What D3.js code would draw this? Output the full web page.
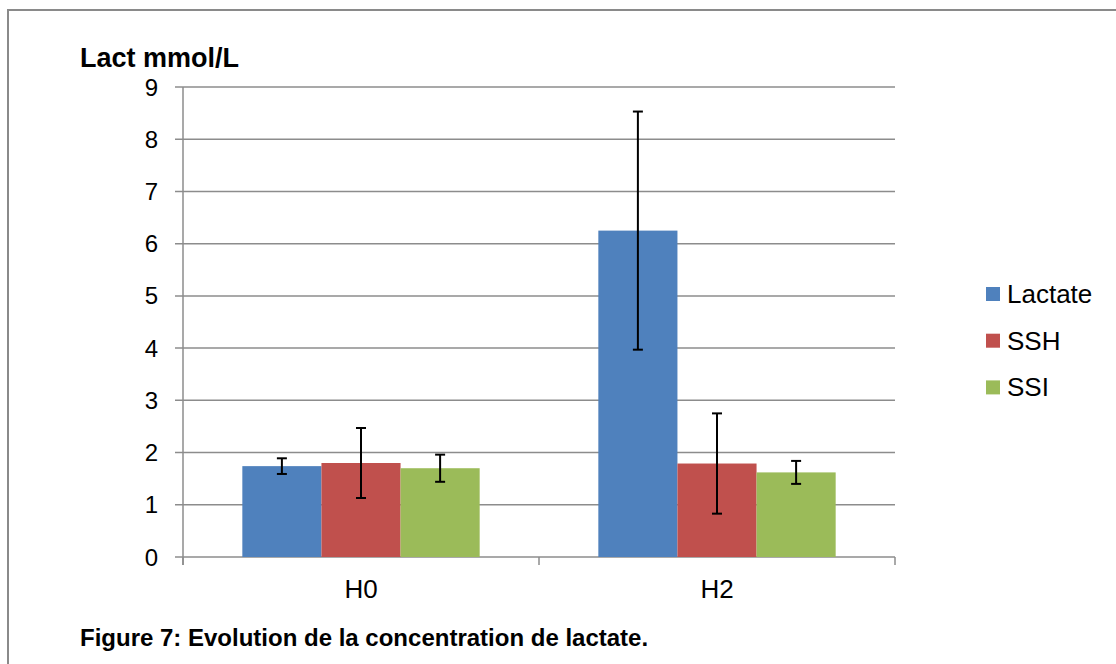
<!DOCTYPE html>
<html><head><meta charset="utf-8">
<script src="https://cdn.jsdelivr.net/npm/d3@7"></script>
<style>
html,body{margin:0;padding:0;background:#fff;}
svg{display:block;font-family:"Liberation Sans",Arial,Helvetica,sans-serif;}
</style></head>
<body><svg id="c" width="1116" height="664"></svg>
<script>
const categories = ["H0", "H2"];
const seriesNames = ["Lactate", "SSH", "SSI"];
const lactate = [1.74, 6.25];
const ssh = [1.80, 1.79];
const ssi = [1.70, 1.62];
const lactateErr = [0.15, 2.28];
const sshErr = [0.67, 0.96];
const ssiErr = [0.26, 0.22];
const yTicks = [0,1,2,3,4,5,6,7,8,9];
const colors = ["#4F81BD", "#C0504D", "#9BBB59"];

(function(){
const values = [lactate, ssh, ssi];
const errs = [lactateErr, sshErr, ssiErr];

const svg = d3.select("#c");
// frame
svg.append("path").attr("d","M8,664 L8,10 L1116,10").attr("fill","none").attr("stroke","#8a8a8a").attr("stroke-width",2);

const pLeft = 183, pRight = 895, pTop = 87, pBottom = 557;
const x = d3.scaleBand().domain(categories).range([pLeft, pRight]).paddingInner(0).paddingOuter(0);
const inner = d3.scaleBand().domain(seriesNames).range([0, x.bandwidth()]).paddingInner(0).paddingOuter(0.75);
const y = d3.scaleLinear().domain([0, 9]).range([pBottom, pTop]);

// gridlines
svg.append("g").selectAll("line").data(yTicks).join("line")
  .attr("x1", pLeft - 8).attr("x2", pRight)
  .attr("y1", d => y(d)).attr("y2", d => y(d))
  .attr("stroke", "#8c8c8c").attr("stroke-width", 1.5);

// y axis line
svg.append("line").attr("x1", pLeft).attr("x2", pLeft).attr("y1", pTop).attr("y2", pBottom + 8)
  .attr("stroke", "#8c8c8c").attr("stroke-width", 1.5);

// y tick labels
svg.append("g").selectAll("text").data(yTicks).join("text")
  .attr("x", 158).attr("y", d => y(d) + 8.5)
  .attr("text-anchor", "end").attr("font-size", 24).attr("fill", "#000")
  .text(d => d);

// x ticks
const xTickPos = categories.map(c => x(c)).concat([pRight]);
svg.append("g").selectAll("line").data(xTickPos).join("line")
  .attr("x1", d => d).attr("x2", d => d).attr("y1", pBottom).attr("y2", pBottom + 8)
  .attr("stroke", "#8c8c8c").attr("stroke-width", 1.5);

// bars
seriesNames.forEach((s, si) => {
  const g = svg.append("g");
  g.selectAll("rect").data(categories).join("rect")
    .attr("x", c => x(c) + inner(s))
    .attr("width", inner.bandwidth())
    .attr("y", (c, i) => y(values[si][i]))
    .attr("height", (c, i) => y(0) - y(values[si][i]))
    .attr("fill", colors[si]);
});

// error bars
seriesNames.forEach((s, si) => {
  categories.forEach((c, i) => {
    const cx = x(c) + inner(s) + inner.bandwidth() / 2;
    const v = values[si][i], e = errs[si][i];
    const g = svg.append("g").attr("stroke", "#000").attr("stroke-width", 2);
    g.append("line").attr("x1", cx).attr("x2", cx).attr("y1", y(v + e)).attr("y2", y(v - e));
    g.append("line").attr("x1", cx - 5).attr("x2", cx + 5).attr("y1", y(v + e)).attr("y2", y(v + e));
    g.append("line").attr("x1", cx - 5).attr("x2", cx + 5).attr("y1", y(v - e)).attr("y2", y(v - e));
  });
});

// x labels
svg.append("g").selectAll("text").data(categories).join("text")
  .attr("x", c => x(c) + x.bandwidth() / 2).attr("y", 598)
  .attr("text-anchor", "middle").attr("font-size", 26).attr("fill", "#000")
  .text(c => c);

// y title
svg.append("text").attr("x", 80).attr("y", 67).attr("font-size", 27).attr("font-weight", "bold").text("Lact mmol/L");

// legend
const leg = svg.append("g");
seriesNames.forEach((s, i) => {
  const yy = 287 + i * 46.7;
  leg.append("rect").attr("x", 986).attr("y", yy).attr("width", 14).attr("height", 14).attr("fill", colors[i]);
  leg.append("text").attr("x", 1007).attr("y", yy + 16).attr("font-size", 26).text(s);
});

// caption
svg.append("text").attr("x", 80).attr("y", 646).attr("font-size", 24).attr("font-weight", "bold")
  .text("Figure 7: Evolution de la concentration de lactate.");
})();
</script>
</body></html>
